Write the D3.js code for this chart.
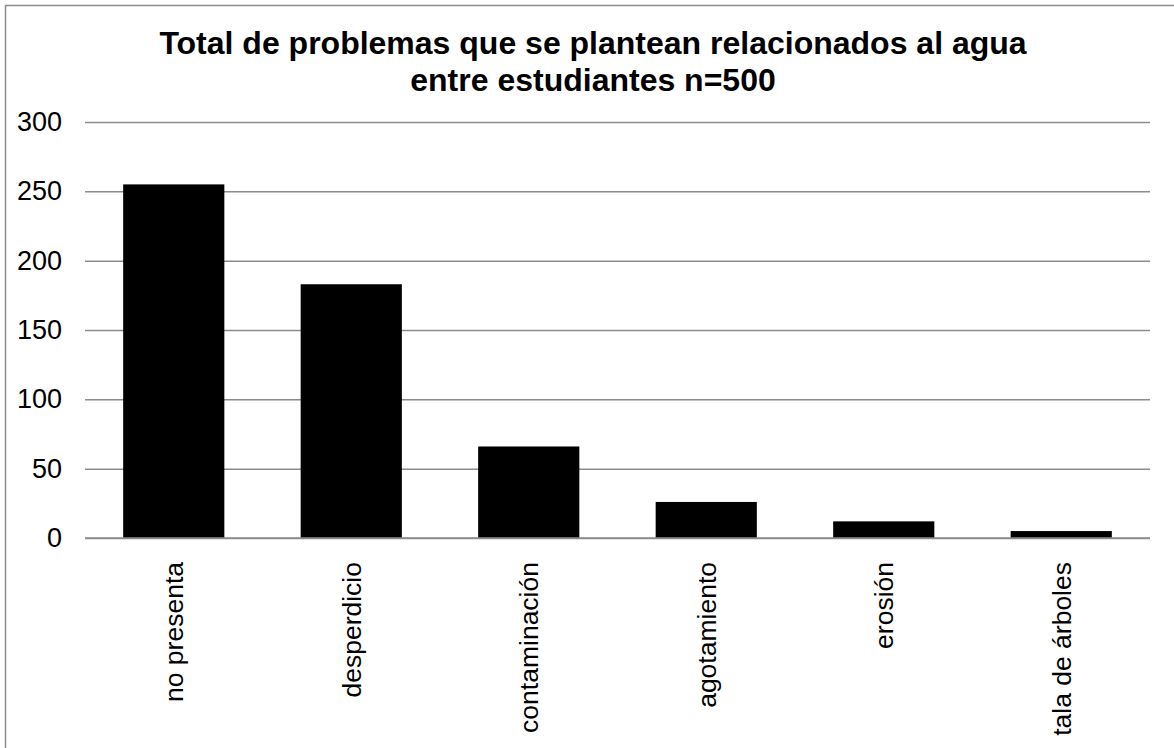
<!DOCTYPE html>
<html>
<head>
<meta charset="utf-8">
<script src="https://cdn.jsdelivr.net/npm/d3@7"></script>
<style>
  body { margin: 0; background: #fff; }
  text { font-family: "Liberation Sans", Arial, sans-serif; fill: #000; }
</style>
</head>
<body>
<main></main>
<script>
const categories = ['no presenta', 'desperdicio', 'contaminación', 'agotamiento', 'erosión', 'tala de árboles']
const values = [255, 183, 66, 26, 12, 5]
const yTicks = [0, 50, 100, 150, 200, 250, 300]
const titleLines = ['Total de problemas que se plantean relacionados al agua', 'entre estudiantes n=500']

const W = 1174, H = 748
const margin = {top: 122, right: 24, bottom: 210, left: 85}
const width = W - margin.left - margin.right
const height = H - margin.top - margin.bottom

const x = d3.scaleBand().domain(categories).range([0, width])
  .paddingInner(0.43).paddingOuter(0.215)
const y = d3.scaleLinear().domain([0, 300]).range([height, 0])

const svg = d3.select('main').append('svg')
  .attr('width', W)
  .attr('height', H)

svg.append('rect')
  .attr('x', 5.5).attr('y', 5.5)
  .attr('width', W).attr('height', H)
  .attr('fill', 'none')
  .attr('stroke', '#8c8c8c')
  .attr('stroke-width', 1.5)

svg.append('g')
  .selectAll('text')
  .data(titleLines)
  .enter().append('text')
    .attr('x', 593)
    .attr('y', (d, i) => 54 + i * 37)
    .attr('text-anchor', 'middle')
    .attr('font-weight', 'bold')
    .attr('font-size', 32)
    .text(d => d)

const g = svg.append('g')
  .attr('transform', `translate(${margin.left},${margin.top})`)

// gridlines + y labels
const yAxis = g.append('g')
  .call(d3.axisLeft(y).tickValues(yTicks).tickSize(-width).tickPadding(23))
yAxis.select('.domain').remove()
yAxis.selectAll('.tick line').attr('stroke', '#8c8c8c').attr('stroke-width', 1.5)
yAxis.selectAll('.tick text')
  .attr('font-size', 27)
  .attr('font-family', '"Liberation Sans", Arial, sans-serif')
  .attr('fill', '#000')

g.append('g')
  .selectAll('rect')
  .data(values)
  .enter().append('rect')
    .attr('x', (d, i) => x(categories[i]))
    .attr('y', d => y(d))
    .attr('width', x.bandwidth())
    .attr('height', d => height - y(d))
    .attr('fill', '#000')

// x labels rotated
const xAxis = g.append('g')
  .attr('transform', `translate(0,${height})`)
  .call(d3.axisBottom(x).tickSize(0).tickPadding(0))
xAxis.select('.domain').remove()
xAxis.selectAll('.tick text')
  .attr('font-size', 26.5)
  .attr('font-family', '"Liberation Sans", Arial, sans-serif')
  .attr('fill', '#000')
  .attr('text-anchor', 'end')
  .attr('transform', 'rotate(-90)')
  .attr('x', -24)
  .attr('y', 0)
  .attr('dy', '0.35em')

// baseline line over bars
g.append('line')
  .attr('x1', 0).attr('x2', width)
  .attr('y1', height).attr('y2', height)
  .attr('stroke', '#8c8c8c')
  .attr('stroke-width', 1.5)
</script>
</body>
</html>
